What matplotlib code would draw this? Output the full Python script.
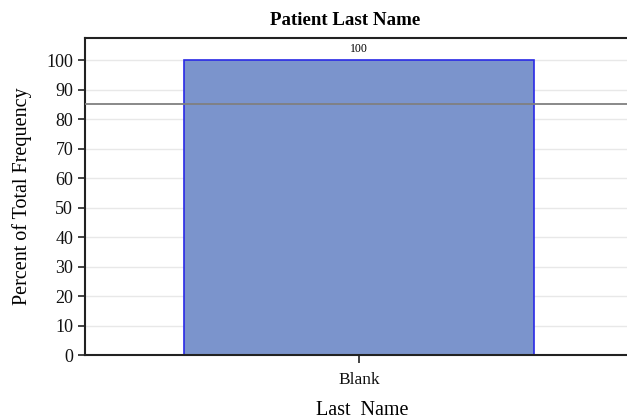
import matplotlib
matplotlib.use("Agg")
import matplotlib.pyplot as plt

categories = ["Blank"]
percents = [100]
reference_value = 85
yticks = list(range(0, 101, 10))

plt.rcParams['font.family'] = ['Liberation Serif', 'DejaVu Serif']

fig = plt.figure(figsize=(6.27, 4.19), dpi=100)
ax = fig.add_axes([85/627, (419-355)/419, (640-85)/627, (355-38)/419])

ax.set_axisbelow(True)
ax.yaxis.grid(True, color='#e8e8e8', linewidth=1)
x = list(range(len(categories)))
bars = ax.bar(x, percents, width=0.653, color='#7b94cc', edgecolor='#2a2ae6', linewidth=1.2, zorder=2)
for xi, v in zip(x, percents):
    ax.annotate(f"{v:g}", (xi, v), xytext=(0, 4), textcoords='offset points',
                ha='center', va='bottom', fontsize=8.5)
ax.axhline(reference_value, color='#808080', linewidth=1.3, zorder=3)

ax.set_xlim(-0.511, 0.524)
ax.set_ylim(0, 107.5)
ax.set_yticks(yticks)
ax.set_xticks(x)
ax.set_xticklabels(categories)
ax.tick_params(axis='y', labelsize=13, length=5, width=1.2, colors='#222222', labelcolor='#111111')
ax.tick_params(axis='x', labelsize=12.5, length=6, width=1.2, pad=6, colors='#222222', labelcolor='#111111')
for s in ['left', 'bottom', 'top']:
    ax.spines[s].set_linewidth(1.5)
    ax.spines[s].set_color('#222222')
ax.spines['right'].set_visible(False)

ax.set_title("Patient Last Name", fontsize=13.6, fontweight='bold', pad=9, x=0.468)
ax.set_ylabel("Percent of Total Frequency", fontsize=14.5, labelpad=10)
ax.set_xlabel("Last  Name", fontsize=14.5, labelpad=9.5)

fig.savefig("out.png", dpi=100)
